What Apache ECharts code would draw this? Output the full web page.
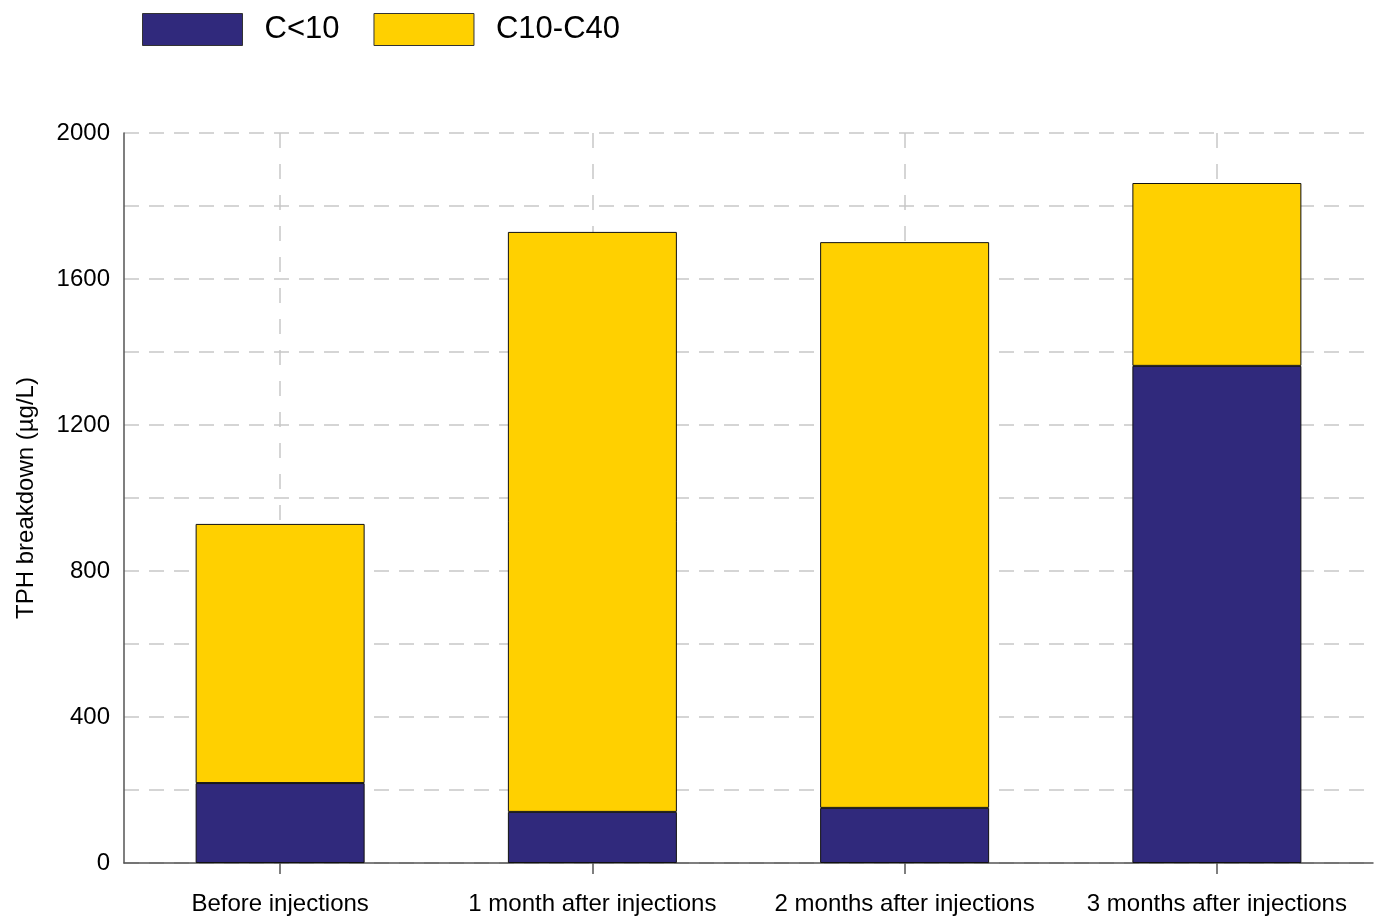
<!DOCTYPE html>
<html>
<head>
<meta charset="utf-8">
<script src="https://cdn.jsdelivr.net/npm/echarts@6/dist/echarts.min.js"></script>
<style>
  html, body { margin: 0; padding: 0; background: #fff; }
  #chart { width: 1381px; height: 917px; }
</style>
</head>
<body>
<div id="chart"></div>
<script>
// categories and series values
const categories = ['Before injections', '1 month after injections', '2 months after injections', '3 months after injections'];
const lightFraction = [219, 140, 151, 1362];    // C<10
const heavyFraction = [710, 1589, 1550, 501];   // C10-C40
const seriesNames = ['C<10', 'C10-C40'];
const seriesColors = ['#30297c', '#ffd000'];

const myChart = echarts.init(document.getElementById('chart'));

const option = {
    animation: false,
    textStyle: { fontFamily: 'Liberation Sans, Arial, sans-serif' },
    legend: {
        left: 137,
        top: 8,
        icon: 'rect',
        itemWidth: 100,
        itemHeight: 32,
        itemGap: 34,
        textStyle: { fontSize: 31, color: '#000', padding: [0, 0, 0, 17] },
        itemStyle: { borderColor: '#333', borderWidth: 1 },
        data: seriesNames
    },
    grid: { left: 124, right: 8, top: 133, bottom: 54 },
    xAxis: {
        type: 'category',
        data: categories,
        axisLine: { lineStyle: { color: '#555', width: 1.5 } },
        axisTick: { show: true, interval: 0, alignWithLabel: true, length: 11, lineStyle: { color: '#555', width: 1.5 } },
        axisLabel: { interval: 0, fontSize: 24, color: '#000', margin: 29 },
        splitLine: {
            show: true,
            interval: 0,
            alignWithLabel: true,
            lineStyle: { color: '#c8c8c8', type: [15, 16], width: 1.5 }
        }
    },
    yAxis: {
        type: 'value',
        min: 0,
        max: 2000,
        interval: 200,
        name: 'TPH breakdown (µg/L)',
        nameLocation: 'middle',
        nameGap: 86,
        nameTextStyle: { fontSize: 24, color: '#000' },
        axisLine: { show: true, lineStyle: { color: '#555', width: 1.5 } },
        axisTick: { show: false },
        axisLabel: {
            fontSize: 24,
            color: '#000',
            margin: 14,
            formatter: function (v) { return v % 400 === 0 ? String(v) : ''; }
        },
        splitLine: { lineStyle: { color: '#c8c8c8', type: [15, 10], width: 1.5 } }
    },
    series: [
        {
            name: seriesNames[0],
            type: 'bar',
            stack: 'tph',
            data: lightFraction,
            barWidth: 169,
            itemStyle: { color: seriesColors[0], borderColor: '#111', borderWidth: 1 }
        },
        {
            name: seriesNames[1],
            type: 'bar',
            stack: 'tph',
            data: heavyFraction,
            barWidth: 169,
            itemStyle: { color: seriesColors[1], borderColor: '#111', borderWidth: 1 }
        }
    ]
};

myChart.setOption(option);
</script>
</body>
</html>
